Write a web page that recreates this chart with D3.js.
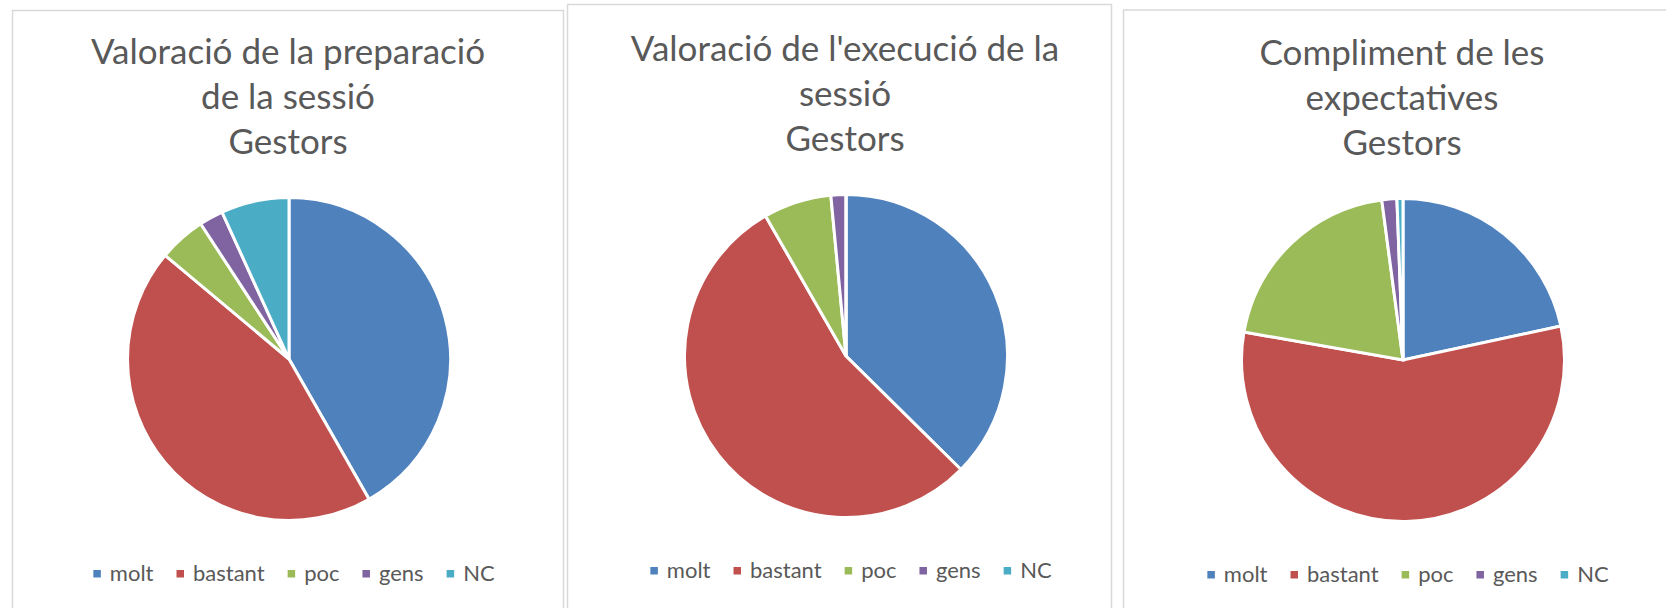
<!DOCTYPE html>
<head>
  <meta charset="utf-8">
  <script src="https://cdn.jsdelivr.net/npm/d3@7"></script>
  <style>
    body { margin:0; background:#fff; overflow:hidden; }
    text { font-family: Lato, "Open Sans", sans-serif; fill:#595959; }
  </style>
</head>

<body>
  <script>
    // categories of the answer
    const categories = ["molt", "bastant", "poc", "gens", "NC"];
    const colors = ["#4f81bd", "#c0504d", "#9bbb59", "#8064a2", "#4bacc6"];

    // percentage per category
    const prepValues = [41.7, 44.3, 4.7, 2.4, 6.8];
    const execValues = [37.4, 54.3, 6.8, 1.5, 0];
    const expectValues = [21.6, 56.1, 20.1, 1.5, 0.6];

    const prepTitle = ["Valoració de la preparació", "de la sessió", "Gestors"];
    const execTitle = ["Valoració de l'execució de la", "sessió", "Gestors"];
    const expectTitle = ["Compliment de les", "expectatives", "Gestors"];

    let width = 1666,
        height = 608;

    let svg = d3.select("body")
      .append("svg")
      .attr("width", width)
      .attr("height", height);

    // frame and centre of each chart box
    let charts = [
      { title: prepTitle, values: prepValues, x: 12, y: 10, w: 551, cx: 289, dy: 0 },
      { title: execTitle, values: execValues, x: 567, y: 4, w: 544, cx: 846, dy: -3 },
      { title: expectTitle, values: expectValues, x: 1123, y: 9.5, w: 560, cx: 1403, dy: 1 }
    ];

    let color = d3.scaleOrdinal().domain(categories).range(colors);
    let pie = d3.pie().sort(null).value(d => d.value);
    let arc = d3.arc().innerRadius(0).outerRadius(161.5);

    charts.forEach(c => {
      let g = svg.append("g");

      g.append("rect")
        .attr("x", c.x + 0.5)
        .attr("y", c.y + 0.5)
        .attr("width", c.w)
        .attr("height", 700)
        .attr("fill", "#fff")
        .attr("stroke", "#d9d9d9")
        .attr("stroke-width", 1.5);

      // title, three lines
      g.selectAll(".title")
        .data(c.title)
        .enter().append("text")
        .attr("class", "title")
        .attr("x", c.cx - 1)
        .attr("y", (d, i) => 64 + c.dy + i * 45)
        .attr("text-anchor", "middle")
        .style("font-size", "35px")
        .text(d => d);

      // the pie
      let data = categories.map((k, i) => ({ key: k, value: c.values[i] }));
      g.append("g")
        .attr("transform", "translate(" + c.cx + "," + (359 + c.dy) + ")")
        .selectAll("path")
        .data(pie(data))
        .enter().append("path")
        .attr("d", arc)
        .attr("fill", d => color(d.data.key))
        .attr("stroke", "#fff")
        .attr("stroke-width", 3);

      // legend: square, text, gap
      let legend = g.append("g");
      let xpos = 0;
      categories.forEach(k => {
        let item = legend.append("g").attr("transform", "translate(" + xpos + ",0)");
        item.append("rect")
          .attr("x", 0)
          .attr("y", -11)
          .attr("width", 7.5)
          .attr("height", 7.5)
          .attr("fill", color(k));
        let t = item.append("text")
          .attr("x", 16.5)
          .attr("y", 0)
          .style("font-size", "22px")
          .text(k);
        xpos += 16.5 + t.node().getComputedTextLength() + 23;
      });
      let total = xpos - 23;
      legend.attr("transform", "translate(" + (c.cx + 5 - total / 2) + "," + (581 + c.dy) + ")");
    });
  </script>
</body>
